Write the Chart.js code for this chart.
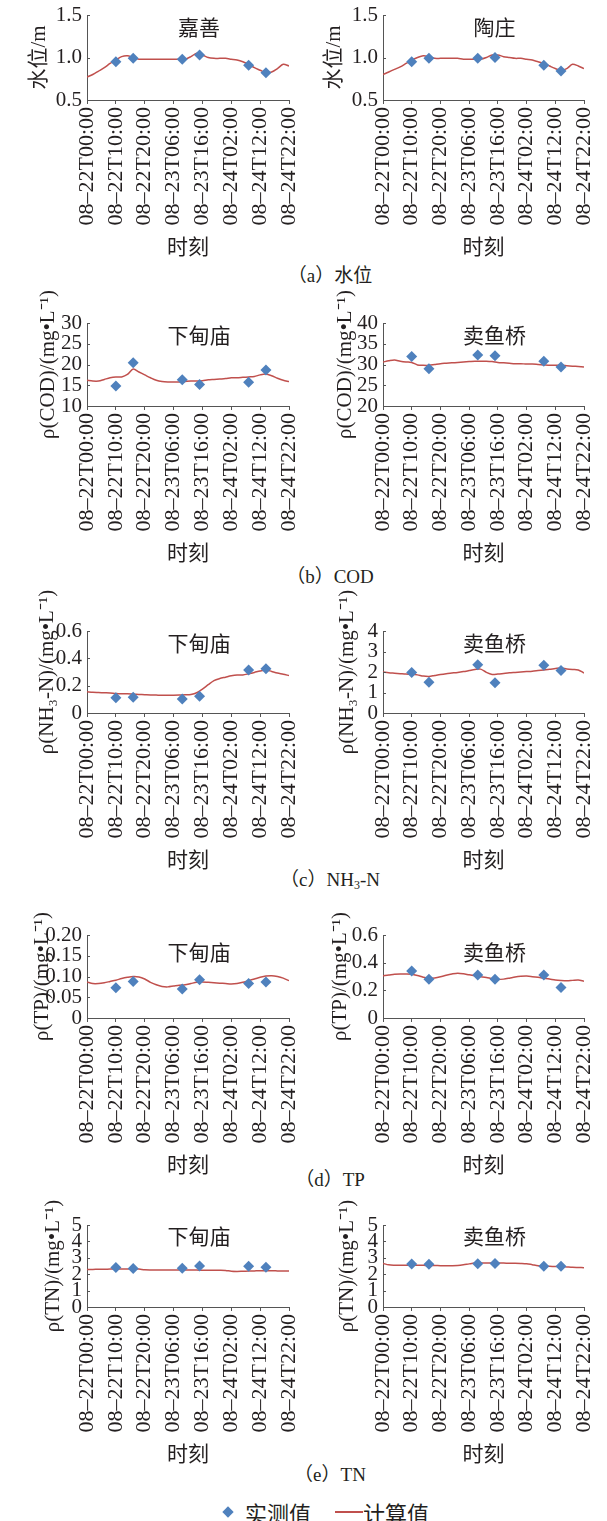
<!DOCTYPE html>
<html lang="zh-CN">
<head>
<meta charset="utf-8">
<title>水位及水质计算值与实测值对比</title>
<script src="https://cdn.jsdelivr.net/npm/chart.js@4.4.1/dist/chart.umd.min.js"></script>
<style>
  body { margin: 0; background: #fff; }
  #page {
    position: relative; width: 607px; height: 1521px; overflow: hidden;
    font-family: 'Liberation Serif', 'Noto Sans CJK SC', serif; color: #231f20;
  }
  #page canvas { position: absolute; }
  .caption {
    position: absolute; left: 230px; width: 200px; height: 24px;
    line-height: 24px; text-align: center; font-size: 19px;
  }
  .caption sub { font-size: 12px; vertical-align: -3px; line-height: 0; }
  .legend-text { position: absolute; font-size: 22px; line-height: 26px; top: 1499px; font-family: 'Noto Sans CJK SC', sans-serif; }
  .legend-diamond { position: absolute; left: 224px; top: 1508px; width: 8px; height: 8px; background: #4f81bd; transform: rotate(45deg); }
  .legend-line { position: absolute; left: 335px; top: 1511px; width: 28px; height: 2px; background: #c0504d; }
</style>
</head>
<body>
<div id="page">
  <div class="caption" style="top:264px">（a）水位</div>
  <div class="caption" style="top:565px">（b）COD</div>
  <div class="caption" style="top:868px">（c）NH<sub>3</sub>-N</div>
  <div class="caption" style="top:1168px">（d）TP</div>
  <div class="caption" style="top:1463px">（e）TN</div>
  <span class="legend-diamond"></span>
  <span class="legend-text" style="left:245px">实测值</span>
  <span class="legend-line"></span>
  <span class="legend-text" style="left:363px">计算值</span>
</div>
<script>
const tickLabels = ['08–22T00:00', '08–22T10:00', '08–22T20:00', '08–23T06:00',
    '08–23T16:00', '08–24T02:00', '08–24T12:00', '08–24T22:00'];

// hours after 08-22T00:00
const measuredHours = [10, 16, 33, 39, 56, 62];
const calcHours = [0, 2, 4, 6, 8, 10, 12, 14, 16, 18, 20, 22, 24, 26, 28, 30, 32, 34,
    36, 38, 40, 42, 44, 46, 48, 50, 52, 54, 56, 58, 60, 62, 64, 66, 68, 70];

// (a) 水位
const levelTicks = ['0.5', '1.0', '1.5'];
const jiashanLevelMeasured = [0.95, 0.99, 0.98, 1.03, 0.91, 0.82];
const jiashanLevelCalc = [0.77, 0.80, 0.84, 0.88, 0.93, 0.97, 1.01, 1.02, 1.00, 0.98,
    0.98, 0.98, 0.98, 0.98, 0.98, 0.98, 0.98, 0.98, 1.01, 1.05,
    1.03, 1.00, 0.99, 0.99, 0.99, 0.98, 0.97, 0.95, 0.92, 0.88,
    0.85, 0.82, 0.83, 0.87, 0.92, 0.90];
const taozhuangLevelMeasured = [0.95, 0.99, 0.99, 1.00, 0.91, 0.84];
const taozhuangLevelCalc = [0.80, 0.83, 0.86, 0.89, 0.93, 0.97, 1.00, 1.02, 1.01, 0.99,
    0.99, 0.99, 0.99, 0.99, 0.98, 0.98, 0.98, 0.98, 1.00, 1.03,
    1.03, 1.01, 1.00, 0.99, 0.99, 0.98, 0.97, 0.95, 0.93, 0.90,
    0.87, 0.85, 0.87, 0.92, 0.90, 0.87];

// (b) COD
const xiadianCodTicks = ['10', '15', '20', '25', '30'];
const xiadianCodMeasured = [14.8, 20.4, 16.3, 15.2, 15.7, 18.7];
const xiadianCodCalc = [16.2, 16.0, 16.0, 16.4, 16.8, 17.0, 17.0, 17.6, 18.9, 18.2,
    17.5, 16.8, 16.2, 15.9, 15.8, 15.8, 15.8, 15.9, 16.0, 16.0,
    16.1, 16.3, 16.4, 16.5, 16.6, 16.8, 16.8, 16.9, 17.0, 17.1,
    17.5, 17.7, 17.3, 16.7, 16.2, 15.9];
const maiyuqiaoCodTicks = ['20', '25', '30', '35', '40'];
const maiyuqiaoCodMeasured = [31.9, 29.0, 32.3, 32.1, 30.8, 29.4];
const maiyuqiaoCodCalc = [30.6, 30.9, 31.1, 30.8, 30.6, 30.5, 29.9, 29.8, 29.8, 30.0,
    30.2, 30.3, 30.4, 30.5, 30.6, 30.7, 30.8, 30.8, 30.8, 30.7,
    30.5, 30.4, 30.3, 30.2, 30.2, 30.1, 30.1, 30.0, 29.9, 29.8,
    29.8, 29.8, 29.7, 29.6, 29.5, 29.4];

// (c) NH3-N
const xiadianNh3Ticks = ['0', '0.2', '0.4', '0.6'];
const xiadianNh3Measured = [0.112, 0.115, 0.102, 0.122, 0.315, 0.324];
const xiadianNh3Calc = [0.155, 0.152, 0.150, 0.148, 0.146, 0.143, 0.141, 0.140, 0.138, 0.136,
    0.134, 0.132, 0.131, 0.130, 0.130, 0.130, 0.131, 0.133, 0.136, 0.148,
    0.175, 0.207, 0.237, 0.252, 0.262, 0.272, 0.278, 0.278, 0.287, 0.297,
    0.308, 0.315, 0.304, 0.293, 0.284, 0.274];
const maiyuqiaoNh3Ticks = ['0', '1', '2', '3', '4'];
const maiyuqiaoNh3Measured = [1.97, 1.50, 2.35, 1.48, 2.33, 2.07];
const maiyuqiaoNh3Calc = [2.00, 1.96, 1.94, 1.92, 1.90, 1.89, 1.86, 1.80, 1.78, 1.83,
    1.88, 1.92, 1.95, 1.98, 2.02, 2.07, 2.12, 2.14, 1.98, 1.88,
    1.90, 1.93, 1.96, 1.98, 2.00, 2.02, 2.04, 2.07, 2.10, 2.13,
    2.17, 2.20, 2.15, 2.12, 2.10, 1.95];

// (d) TP
const xiadianTpTicks = ['0', '0.05', '0.10', '0.15', '0.20'];
const xiadianTpMeasured = [0.073, 0.088, 0.070, 0.092, 0.083, 0.087];
const xiadianTpCalc = [0.087, 0.083, 0.083, 0.085, 0.088, 0.091, 0.095, 0.098, 0.100, 0.099,
    0.094, 0.086, 0.080, 0.076, 0.075, 0.077, 0.079, 0.080, 0.083, 0.086,
    0.087, 0.086, 0.085, 0.084, 0.083, 0.082, 0.083, 0.086, 0.090, 0.094,
    0.098, 0.101, 0.102, 0.100, 0.096, 0.090];
const maiyuqiaoTpTicks = ['0', '0.2', '0.4', '0.6'];
const maiyuqiaoTpMeasured = [0.34, 0.28, 0.31, 0.28, 0.31, 0.22];
const maiyuqiaoTpCalc = [0.305, 0.310, 0.316, 0.318, 0.318, 0.316, 0.307, 0.295, 0.287, 0.290,
    0.298, 0.309, 0.318, 0.324, 0.320, 0.312, 0.305, 0.299, 0.293, 0.284,
    0.278, 0.281, 0.288, 0.296, 0.301, 0.303, 0.299, 0.294, 0.288, 0.282,
    0.275, 0.271, 0.269, 0.272, 0.275, 0.266];

// (e) TN
const tnTicks = ['0', '1', '2', '3', '4', '5'];
const xiadianTnMeasured = [2.41, 2.35, 2.37, 2.50, 2.49, 2.43];
const xiadianTnCalc = [2.29, 2.29, 2.30, 2.30, 2.31, 2.31, 2.32, 2.32, 2.32, 2.31,
    2.27, 2.26, 2.26, 2.26, 2.25, 2.25, 2.25, 2.25, 2.25, 2.25,
    2.24, 2.24, 2.24, 2.24, 2.23, 2.18, 2.17, 2.18, 2.19, 2.20,
    2.21, 2.21, 2.21, 2.20, 2.19, 2.19];
const maiyuqiaoTnMeasured = [2.62, 2.60, 2.64, 2.66, 2.49, 2.49];
const maiyuqiaoTnCalc = [2.66, 2.57, 2.55, 2.55, 2.54, 2.54, 2.54, 2.54, 2.53, 2.53,
    2.52, 2.52, 2.52, 2.53, 2.57, 2.63, 2.68, 2.68, 2.68, 2.68,
    2.68, 2.68, 2.67, 2.67, 2.66, 2.64, 2.58, 2.52, 2.49, 2.48,
    2.47, 2.46, 2.44, 2.42, 2.41, 2.40];

const BLUE = '#4f81bd';
const RED = '#c0504d';
const TEXT = '#231f20';
const AXIS = '#555';
const PAD_TOP = 45;
const PAD_BOTTOM = 2;
const X_AXIS_H = 172;

const columns = [
    { x: 0, width: 300, plotLeft: 87, plotRight: 289 },
    { x: 300, width: 307, plotLeft: 83, plotRight: 284 }
];

const panels = [
    { col: 0, top: 15, bottom: 100, name: '嘉善', yTitle: '水位/m', titleX: 39, nameDy: 10,
      ticks: levelTicks, measured: jiashanLevelMeasured, calc: jiashanLevelCalc },
    { col: 1, top: 15, bottom: 100, name: '陶庄', yTitle: '水位/m', titleX: 34, nameDy: 10,
      ticks: levelTicks, measured: taozhuangLevelMeasured, calc: taozhuangLevelCalc },
    { col: 0, top: 323, bottom: 406, name: '下甸庙', yTitle: 'ρ(COD)/(mg•L⁻¹)', titleX: 48, nameDy: 10,
      ticks: xiadianCodTicks, measured: xiadianCodMeasured, calc: xiadianCodCalc },
    { col: 1, top: 323, bottom: 406, name: '卖鱼桥', yTitle: 'ρ(COD)/(mg•L⁻¹)', titleX: 45, nameDy: 10,
      ticks: maiyuqiaoCodTicks, measured: maiyuqiaoCodMeasured, calc: maiyuqiaoCodCalc },
    { col: 0, top: 631, bottom: 713, name: '下甸庙', yTitle: 'ρ(NH₃-N)/(mg•L⁻¹)', titleX: 47, nameDy: 10,
      ticks: xiadianNh3Ticks, measured: xiadianNh3Measured, calc: xiadianNh3Calc },
    { col: 1, top: 631, bottom: 713, name: '卖鱼桥', yTitle: 'ρ(NH₃-N)/(mg•L⁻¹)', titleX: 47, nameDy: 10,
      ticks: maiyuqiaoNh3Ticks, measured: maiyuqiaoNh3Measured, calc: maiyuqiaoNh3Calc },
    { col: 0, top: 935, bottom: 1018, name: '下甸庙', yTitle: 'ρ(TP)/(mg•L⁻¹)', titleX: 42, nameDy: 15,
      ticks: xiadianTpTicks, measured: xiadianTpMeasured, calc: xiadianTpCalc },
    { col: 1, top: 935, bottom: 1018, name: '卖鱼桥', yTitle: 'ρ(TP)/(mg•L⁻¹)', titleX: 40, nameDy: 15,
      ticks: maiyuqiaoTpTicks, measured: maiyuqiaoTpMeasured, calc: maiyuqiaoTpCalc },
    { col: 0, top: 1225, bottom: 1307, name: '下甸庙', yTitle: 'ρ(TN)/(mg•L⁻¹)', titleX: 53, nameDy: 9,
      ticks: tnTicks, measured: xiadianTnMeasured, calc: xiadianTnCalc },
    { col: 1, top: 1225, bottom: 1307, name: '卖鱼桥', yTitle: 'ρ(TN)/(mg•L⁻¹)', titleX: 47, nameDy: 9,
      ticks: tnTicks, measured: maiyuqiaoTnMeasured, calc: maiyuqiaoTnCalc }
];

Chart.defaults.font.family = "'Liberation Serif', 'Noto Sans CJK SC', serif";
Chart.defaults.color = TEXT;

// station name inside the plot + short inward ticks on the y axis
const panelDecor = {
    id: 'panelDecor',
    afterDraw(chart, args, opts) {
        const { ctx, chartArea, scales } = chart;
        ctx.save();
        ctx.font = "21px 'Noto Sans CJK SC'";
        ctx.fillStyle = TEXT;
        ctx.textAlign = 'center';
        ctx.textBaseline = 'middle';
        ctx.fillText(opts.text, (chartArea.left + chartArea.right) / 2 + 11, chartArea.top + opts.dy + 2);

        ctx.strokeStyle = AXIS;
        ctx.lineWidth = 1;
        scales.y.ticks.forEach(t => {
            const y = Math.round(scales.y.getPixelForValue(t.value)) + 0.5;
            ctx.beginPath();
            ctx.moveTo(chartArea.left, y);
            ctx.lineTo(chartArea.left + 3, y);
            ctx.stroke();
        });
        ctx.restore();
    }
};

const page = document.getElementById('page');

function makeChart(panel) {
    const col = columns[panel.col];
    const plotH = panel.bottom - panel.top;
    const canvas = document.createElement('canvas');
    canvas.width = col.width;
    canvas.height = PAD_TOP + plotH + X_AXIS_H + PAD_BOTTOM;
    canvas.style.left = col.x + 'px';
    canvas.style.top = (panel.top - PAD_TOP) + 'px';
    page.appendChild(canvas);

    const yMin = parseFloat(panel.ticks[0]);
    const yMax = parseFloat(panel.ticks[panel.ticks.length - 1]);
    const yStep = parseFloat(panel.ticks[1]) - yMin;

    new Chart(canvas.getContext('2d'), {
        type: 'line',
        data: {
            datasets: [{
                label: '实测值',
                data: measuredHours.map((h, i) => ({ x: h, y: panel.measured[i] })),
                showLine: false,
                pointStyle: 'rectRot',
                pointRadius: 5.5,
                pointBackgroundColor: BLUE,
                pointBorderColor: BLUE,
                pointBorderWidth: 0
            }, {
                label: '计算值',
                data: calcHours.map((h, i) => ({ x: h, y: panel.calc[i] })),
                borderColor: RED,
                borderWidth: 1.5,
                pointRadius: 0,
                tension: 0.3,
                fill: false
            }]
        },
        options: {
            responsive: false,
            animation: false,
            layout: { padding: { top: PAD_TOP, bottom: PAD_BOTTOM, left: 0, right: col.width - col.plotRight } },
            plugins: {
                legend: { display: false },
                tooltip: { enabled: false },
                panelDecor: { text: panel.name, dy: panel.nameDy }
            },
            scales: {
                x: {
                    type: 'linear',
                    min: 0,
                    max: 70,
                    afterFit: (s) => { s.height = X_AXIS_H; s.paddingLeft = 0; s.paddingRight = 0; },
                    ticks: {
                        stepSize: 10,
                        autoSkip: false,
                        minRotation: 90,
                        maxRotation: 90,
                        padding: 3,
                        font: { size: 22 },
                        callback: (v) => tickLabels[Math.round(v / 10)]
                    },
                    grid: { drawOnChartArea: false, drawTicks: true, tickLength: 4, color: AXIS },
                    border: { color: AXIS, width: 1 },
                    title: { display: true, text: '时刻', font: { size: 21 }, padding: { top: 0, bottom: 11 } }
                },
                y: {
                    min: yMin,
                    max: yMax,
                    afterFit: (s) => { s.width = col.plotLeft; },
                    ticks: {
                        stepSize: yStep,
                        autoSkip: false,
                        padding: 5,
                        font: { size: 21 },
                        callback: (v, i) => panel.ticks[i]
                    },
                    grid: { display: false, drawTicks: false },
                    border: { color: AXIS, width: 1 },
                    title: {
                        display: true,
                        text: panel.yTitle,
                        font: { size: 21 },
                        padding: { top: panel.titleX - 12.6, bottom: 0 }
                    }
                }
            }
        },
        plugins: [panelDecor]
    });
}

panels.forEach(makeChart);
</script>
</body>
</html>
